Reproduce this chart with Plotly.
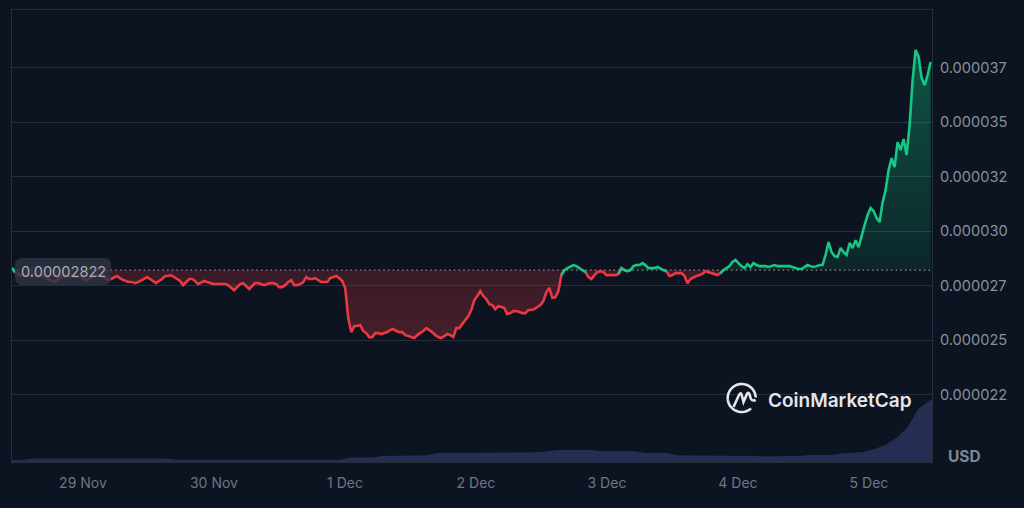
import numpy as np
import pandas as pd
import plotly.graph_objects as go

# Price in millionths of a USD, one reading every 33 minutes
price_micro = [
    28.31,28.13,28.04,27.99,27.99,27.95,27.99,28.04,27.99,27.95,
    27.95,27.95,27.81,27.72,27.67,27.76,27.90,27.99,27.99,27.95,
    27.95,27.90,27.90,27.95,27.81,27.76,27.85,27.95,27.95,27.99,
    27.95,27.85,27.76,27.81,27.90,27.95,27.85,27.76,27.72,27.67,
    27.67,27.62,27.67,27.76,27.85,27.90,27.81,27.72,27.62,27.72,
    27.81,27.95,27.95,27.99,27.90,27.81,27.72,27.53,27.67,27.81,
    27.81,27.72,27.58,27.67,27.72,27.67,27.62,27.58,27.58,27.58,
    27.58,27.58,27.53,27.40,27.30,27.44,27.58,27.62,27.49,27.35,
    27.49,27.62,27.62,27.58,27.53,27.58,27.62,27.62,27.58,27.44,
    27.44,27.53,27.67,27.76,27.53,27.53,27.58,27.67,27.90,27.81,
    27.81,27.85,27.76,27.67,27.67,27.67,27.85,27.90,27.95,27.85,
    27.72,27.40,26.02,25.38,25.66,25.66,25.70,25.43,25.33,25.15,
    25.15,25.33,25.33,25.29,25.33,25.38,25.47,25.52,25.43,25.38,
    25.38,25.24,25.20,25.15,25.11,25.24,25.33,25.43,25.56,25.47,
    25.38,25.24,25.15,25.11,25.20,25.29,25.24,25.15,25.56,25.56,
    25.75,25.93,26.11,26.39,26.85,27.03,27.26,27.03,26.89,26.66,
    26.62,26.43,26.57,26.53,26.48,26.20,26.25,26.34,26.34,26.30,
    26.25,26.25,26.39,26.39,26.43,26.53,26.62,26.80,27.21,27.40,
    26.94,26.98,27.26,27.99,28.22,28.31,28.40,28.45,28.40,28.31,
    28.22,28.13,27.90,27.81,27.99,28.13,28.17,28.13,27.99,27.99,
    27.99,27.99,28.04,28.31,28.22,28.17,28.22,28.40,28.45,28.45,
    28.54,28.45,28.31,28.31,28.31,28.36,28.27,28.22,28.17,27.95,
    27.99,28.08,28.08,28.08,27.95,27.62,27.81,27.90,27.95,27.99,
    28.04,28.17,28.13,28.08,28.04,27.99,28.08,28.22,28.31,28.40,
    28.59,28.68,28.54,28.40,28.31,28.49,28.36,28.54,28.45,28.40,
    28.40,28.40,28.36,28.40,28.45,28.40,28.40,28.40,28.40,28.40,
    28.36,28.31,28.27,28.27,28.36,28.45,28.40,28.36,28.40,28.45,
    28.45,28.91,29.50,29.04,28.86,28.82,29.23,29.04,28.91,29.46,
    29.23,29.59,29.27,29.82,30.28,30.74,31.06,30.92,30.60,30.42,
    31.33,31.88,32.80,33.35,32.94,34.08,33.72,34.22,33.49,34.86,
    36.92,38.30,37.98,37.01,36.69,37.15,37.75,
]

# Traded volume per two-hour bin, millions of USD
volume_musd = [
    2,2,3.5,3.5,3.5,3.5,3.5,3.5,3.5,3.5,3.5,3.5,3.5,3.5,3.5,
    2.2,2.2,2.2,2.2,2.2,2.2,2.2,2.2,2.2,2.2,2.2,2.2,2.2,2.2,2.2,2.2,
    4.5,4.5,4.5,6,6,6.7,6.7,6.7,
    9,9,9,9,9,9,9,9.7,9.7,9.7,10.7,
    12,12,12,12,10.7,10.7,10.7,10.7,9,9,9,
    6.7,6.7,6.7,6.7,6.7,6,6,6,5.5,6,6,6,7,7,7,
    8.5,9,10,13,17,24,34,53,61,68,
]

opening_price = 28.22
opening_label = "0.00002822"
y_tick_values = [22.5, 25, 27.5, 30, 32.5, 35, 37.5]
y_tick_labels = ["0.000022", "0.000025", "0.000027", "0.000030",
                 "0.000032", "0.000035", "0.000037"]
x_tick_dates = ["2023-11-29", "2023-11-30", "2023-12-01", "2023-12-02",
                "2023-12-03", "2023-12-04", "2023-12-05"]
x_tick_labels = ["29 Nov", "30 Nov", "1 Dec", "2 Dec", "3 Dec", "4 Dec", "5 Dec"]

BG = "#0b1420"
GRID = "#262e3b"
RED = "#ea3943"
GREEN = "#16c784"
W, H = 1024, 508
M_L, M_R, M_T, M_B = 12, 92, 10, 46

price = np.array(price_micro)
times = pd.date_range("2023-11-28 11:00", periods=len(price), freq="33min")
vol_times = pd.date_range("2023-11-28 11:00", periods=len(volume_musd), freq="2h")
base = np.full(len(price), opening_price)

below = price < opening_price
above = ~below
red_mask = below | np.r_[below[1:], False] | np.r_[False, below[:-1]]
green_mask = above | np.r_[above[1:], False] | np.r_[False, above[:-1]]


def px(x):
    return (x - M_L) / (W - M_L - M_R)


def py(y):
    return 1 - (y - M_T) / (H - M_T - M_B)


def path(points, close=False):
    d = "M" + " L".join(f"{px(x):.5f},{py(y):.5f}" for x, y in points)
    return d + (" Z" if close else "")


fig = go.Figure()

fig.add_trace(go.Scatter(
    x=vol_times, y=volume_musd, yaxis="y2", mode="lines",
    line=dict(width=0), fill="tozeroy", fillcolor="#232e52", hoverinfo="skip",
))

# Shaded bands between the opening price and the price line
fig.add_trace(go.Scatter(x=times, y=base, mode="lines", line=dict(width=0), hoverinfo="skip"))
fig.add_trace(go.Scatter(
    x=times, y=np.minimum(price, base), mode="lines", line=dict(width=0), fill="tonexty",
    fillgradient=dict(type="vertical", colorscale=[[0, "rgba(234,57,67,0.27)"], [1, "rgba(234,57,67,0.2)"]]),
    hoverinfo="skip",
))
fig.add_trace(go.Scatter(x=times, y=base, mode="lines", line=dict(width=0), hoverinfo="skip"))
fig.add_trace(go.Scatter(
    x=times, y=np.maximum(price, base), mode="lines", line=dict(width=0), fill="tonexty",
    fillgradient=dict(type="vertical", colorscale=[[0, "rgba(22,199,132,0.1)"], [1, "rgba(22,199,132,0.36)"]]),
    hoverinfo="skip",
))

# Opening price reference line
fig.add_trace(go.Scatter(
    x=times, y=base, mode="lines",
    line=dict(color="#8a8f99", width=1.2, dash="1.5px,3.2px"), hoverinfo="skip",
))

fig.add_trace(go.Scatter(
    x=times, y=np.where(red_mask, price, np.nan), mode="lines",
    line=dict(color=RED, width=2.6), connectgaps=False,
))
fig.add_trace(go.Scatter(
    x=times, y=np.where(green_mask, price, np.nan), mode="lines",
    line=dict(color=GREEN, width=2.6), connectgaps=False,
))

# Rounded badge behind the opening price
bx0, bx1, by0, by1, r = 15, 111, 258, 285, 7
badge = (
    f"M{px(bx0 + r)},{py(by0)} L{px(bx1 - r)},{py(by0)} Q{px(bx1)},{py(by0)} {px(bx1)},{py(by0 + r)} "
    f"L{px(bx1)},{py(by1 - r)} Q{px(bx1)},{py(by1)} {px(bx1 - r)},{py(by1)} "
    f"L{px(bx0 + r)},{py(by1)} Q{px(bx0)},{py(by1)} {px(bx0)},{py(by1 - r)} "
    f"L{px(bx0)},{py(by0 + r)} Q{px(bx0)},{py(by0)} {px(bx0 + r)},{py(by0)} Z"
)

# Brand mark: open ring and the peaked stroke inside it
cx, cy, rad = 741.7, 398.0, 14.0
ring_angles = np.radians(np.linspace(48, 358, 60))
ring = [(cx + rad * np.cos(a), cy + rad * np.sin(a)) for a in ring_angles]
stroke = (
    f"M{px(733.5)},{py(407)} L{px(739)},{py(395)} Q{px(741)},{py(391)} {px(742)},{py(396)} "
    f"L{px(743.5)},{py(402)} L{px(747)},{py(394)} Q{px(749)},{py(391)} {px(750)},{py(396)} "
    f"Q{px(751)},{py(402)} {px(755.7)},{py(400)}"
)
MARK = "#e4e6ea"

fig.update_layout(
    width=W, height=H, autosize=False,
    margin=dict(l=M_L, r=M_R, t=M_T, b=M_B),
    paper_bgcolor=BG, plot_bgcolor=BG, showlegend=False,
    xaxis=dict(
        range=["2023-11-28 11:00", "2023-12-05 11:33"],
        tickmode="array", tickvals=x_tick_dates, ticktext=x_tick_labels,
        showgrid=False, zeroline=False, showline=True, linecolor=GRID, linewidth=1, mirror=True,
        ticks="outside", ticklen=8, tickcolor="rgba(0,0,0,0)",
        tickfont=dict(family="Inter", size=14, color="#6f7686"),
    ),
    yaxis=dict(
        range=[19.43, 40.13], side="right",
        tickmode="array", tickvals=y_tick_values, ticktext=y_tick_labels,
        showgrid=True, gridcolor=GRID, gridwidth=1, zeroline=False,
        showline=True, linecolor=GRID, linewidth=1, mirror=True,
        ticks="outside", ticklen=4, tickcolor="rgba(0,0,0,0)",
        tickfont=dict(family="Inter", size=14.6, color="#8a8f9e"),
    ),
    yaxis2=dict(range=[0, 452], overlaying="y", visible=False),
    shapes=[
        dict(type="path", xref="paper", yref="paper", path=badge,
             fillcolor="rgba(46,53,66,0.82)", line=dict(width=0), layer="above"),
        dict(type="path", xref="paper", yref="paper", path=path(ring),
             line=dict(color=MARK, width=2.6), layer="above"),
        dict(type="path", xref="paper", yref="paper", path=stroke,
             line=dict(color=MARK, width=2.6), layer="above"),
    ],
    annotations=[
        dict(x=px(63), y=py(271.5), xref="paper", yref="paper", xanchor="center", yanchor="middle",
             text=opening_label, showarrow=False,
             font=dict(family="Inter", size=14.6, color="#a6abb5")),
        dict(x=px(839.5), y=py(400), xref="paper", yref="paper", xanchor="center", yanchor="middle",
             text="CoinMarketCap", showarrow=False,
             font=dict(family="Inter", size=19, color=MARK, weight=600)),
        dict(x=px(964.5), y=py(456.5), xref="paper", yref="paper", xanchor="center", yanchor="middle",
             text="USD", showarrow=False,
             font=dict(family="Inter", size=15.5, color="#808696", weight=700)),
    ],
)

fig.write_html("out.html")
